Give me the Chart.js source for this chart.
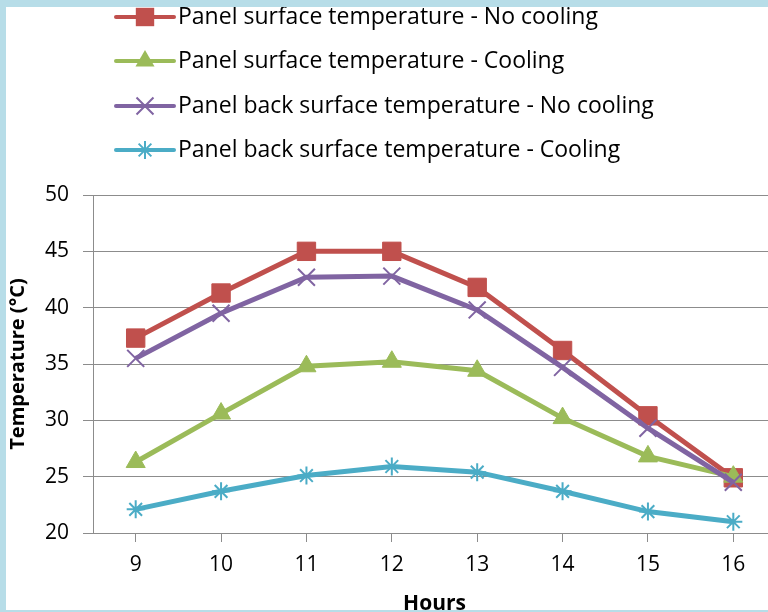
<!DOCTYPE html>
<html>
<head>
<meta charset="utf-8">
<script src="https://cdn.jsdelivr.net/npm/chart.js@4/dist/chart.umd.min.js"></script>
<style>
  html, body { margin: 0; padding: 0; width: 768px; height: 612px; overflow: hidden; background: #fff; }
  #wrap { position: absolute; left: 0; top: 0; width: 790px; height: 630px; }
  .edge { position: absolute; background: #b7dde8; z-index: 2; }
  #edge-left { left: 0; top: 0; width: 6px; height: 612px; }
  #edge-top { left: 0; top: 0; width: 768px; height: 7px; }
  #edge-bottom { left: 0; top: 610px; width: 768px; height: 2px; }
</style>
</head>
<body>
<div id="wrap"><canvas id="chart"></canvas></div>
<div class="edge" id="edge-left"></div>
<div class="edge" id="edge-top"></div>
<div class="edge" id="edge-bottom"></div>
<script>
'use strict';

// ── Data ──────────────────────────────────────────────────────────────────
const hours = ['9', '10', '11', '12', '13', '14', '15', '16'];
const surfaceNoCooling = [37.3, 41.3, 45.0, 45.0, 41.8, 36.2, 30.4, 24.9];
const surfaceCooling   = [26.3, 30.6, 34.8, 35.2, 34.4, 30.2, 26.8, 25.0];
const backNoCooling    = [35.5, 39.5, 42.7, 42.8, 39.8, 34.7, 29.3, 24.5];
const backCooling      = [22.1, 23.7, 25.1, 25.9, 25.4, 23.7, 21.9, 21.0];

const RED = '#c0504d', GREEN = '#9bbb59', PURPLE = '#8064a2', CYAN = '#4bacc6';
const GRID = '#8c8c8c';
const FONT = '"Open Sans", "DejaVu Sans", sans-serif';

// Excel style legend stacked above the plot: line sample with marker, then label
function drawMarker(ctx, style, r, x, y, color) {
  ctx.save();
  ctx.fillStyle = color;
  ctx.strokeStyle = color;
  ctx.lineWidth = 2;
  ctx.beginPath();
  if (style === 'rect') {
    const s = Math.SQRT1_2 * r;
    ctx.rect(x - s, y - s, 2 * s, 2 * s);
    ctx.fill();
  } else if (style === 'triangle') {
    ctx.moveTo(x, y - r);
    ctx.lineTo(x + r * Math.sin(Math.PI / 3), y + r / 2);
    ctx.lineTo(x - r * Math.sin(Math.PI / 3), y + r / 2);
    ctx.closePath();
    ctx.fill();
  } else {
    const d = Math.SQRT1_2 * r;
    ctx.moveTo(x - d, y - d); ctx.lineTo(x + d, y + d);
    ctx.moveTo(x - d, y + d); ctx.lineTo(x + d, y - d);
    if (style === 'star') {
      ctx.moveTo(x, y - r); ctx.lineTo(x, y + r);
      ctx.moveTo(x - r, y); ctx.lineTo(x + r, y);
    }
    ctx.stroke();
  }
  ctx.restore();
}

const stackedLegend = {
  id: 'stackedLegend',
  afterDraw(chart) {
    const ctx = chart.ctx;
    const rows = [17, 61, 106, 150];
    chart.data.datasets.forEach((ds, i) => {
      const y = rows[i];
      ctx.save();
      ctx.strokeStyle = ds.borderColor;
      ctx.lineWidth = 4;
      ctx.lineCap = 'round';
      ctx.beginPath();
      ctx.moveTo(116, y);
      ctx.lineTo(174, y);
      ctx.stroke();
      ctx.restore();
      drawMarker(ctx, ds.pointStyle, ds.pointRadius, 145, y, ds.borderColor);
      ctx.save();
      ctx.fillStyle = '#000';
      ctx.font = '23px ' + FONT;
      ctx.textBaseline = 'middle';
      ctx.fillText(ds.label, 178, y);
      ctx.restore();
    });
  }
};

function series(label, values, color, style, radius, order) {
  return {
    label, data: values, order,
    borderColor: color, backgroundColor: color,
    borderWidth: 5, tension: 0,
    pointStyle: style, pointRadius: radius, pointHoverRadius: radius,
    pointBackgroundColor: color, pointBorderColor: color,
    pointBorderWidth: (style === 'crossRot' || style === 'star') ? 2 : 1
  };
}

new Chart(document.getElementById('chart'), {
  type: 'line',
  data: {
    labels: hours,
    datasets: [
      series('Panel surface temperature - No cooling', surfaceNoCooling, RED, 'rect', 13, 4),
      series('Panel surface temperature - Cooling', surfaceCooling, GREEN, 'triangle', 11, 3),
      series('Panel back surface temperature - No cooling', backNoCooling, PURPLE, 'crossRot', 12, 2),
      series('Panel back surface temperature - Cooling', backCooling, CYAN, 'star', 9, 1)
    ]
  },
  options: {
    responsive: true,
    maintainAspectRatio: false,
    animation: false,
    devicePixelRatio: 1,
    layout: { padding: { top: 195, right: 14, left: 0, bottom: 0 } },
    plugins: { legend: { display: false }, tooltip: { enabled: false } },
    scales: {
      x: {
        offset: true,
        grid: { drawOnChartArea: false, color: GRID, tickLength: 9 },
        border: { color: GRID },
        ticks: { color: '#000', font: { family: FONT, size: 21 }, padding: 10 },
        title: { display: true, text: 'Hours', color: '#000',
                 font: { family: FONT, size: 21, weight: 'bold' }, padding: { top: 0, bottom: 13 } },
        afterFit: s => { s.height = 97; }
      },
      y: {
        min: 20, max: 50,
        grid: { color: GRID, tickLength: 10 },
        border: { color: GRID },
        ticks: { stepSize: 5, color: '#000', font: { family: FONT, size: 21 }, padding: 14 },
        title: { display: true, text: 'Temperature (°C)', color: '#000',
                 font: { family: FONT, size: 20, weight: 'bold' }, padding: { top: 6, bottom: 0 } },
        afterFit: s => { s.width = 93; }
      }
    }
  },
  plugins: [stackedLegend]
});
</script>
</body>
</html>
